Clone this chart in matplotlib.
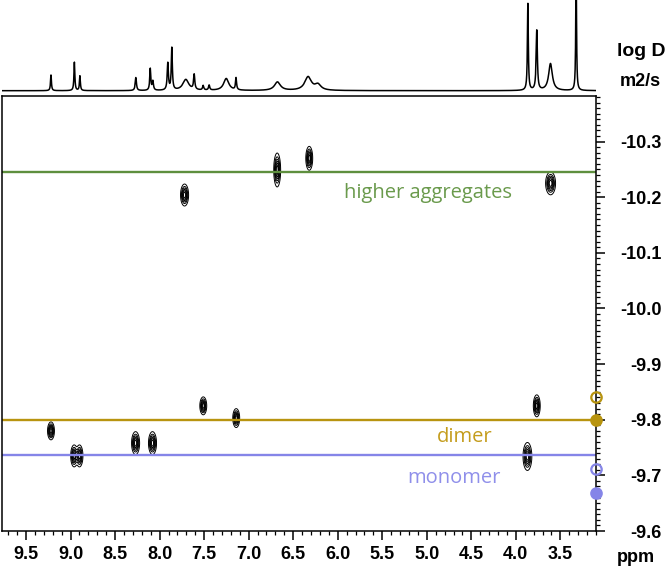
import numpy as np
import matplotlib
matplotlib.use('Agg')
import matplotlib.pyplot as plt
from matplotlib.ticker import MultipleLocator, FormatStrFormatter

plt.rcParams['axes.unicode_minus'] = False

# 1D projection: peak position (ppm), height, half width (ppm)
specPpm = [9.22, 8.957, 8.895, 8.267, 8.105, 8.076, 7.908, 7.863, 7.706, 7.612,
           7.511, 7.444, 7.252, 7.142, 6.677, 6.333, 6.222, 3.865, 3.765, 3.611, 3.323]
specHeight = [15.7, 28.4, 14.7, 13, 21.7, 9, 27, 42, 11, 15,
              4.5, 5, 12, 12, 8.5, 13.5, 5.5, 87, 60, 27, 130]
specWidth = [0.006, 0.006, 0.006, 0.008, 0.007, 0.008, 0.008, 0.007, 0.04, 0.008,
             0.008, 0.008, 0.035, 0.007, 0.04, 0.045, 0.04, 0.006, 0.008, 0.025, 0.005]

# DOSY cross peaks: ppm, log D, widths along each axis
peakPpm = [9.22, 8.96, 8.90, 8.27, 8.08, 7.51, 7.14, 3.765, 3.87, 7.72, 6.68, 6.32, 3.61]
peakLogD = [-9.780, -9.735, -9.735, -9.758, -9.758, -9.825, -9.803, -9.825, -9.734,
            -10.204, -10.249, -10.270, -10.225]
peakSx = [0.018, 0.018, 0.018, 0.021, 0.021, 0.018, 0.018, 0.018, 0.023, 0.021, 0.018, 0.018, 0.026]
peakSy = [0.0075, 0.0092, 0.0092, 0.0096, 0.0096, 0.0075, 0.0079, 0.0092, 0.0117,
          0.0092, 0.0142, 0.0100, 0.0096]

# species lines (log D) and labels
lineNames = ['higher aggregates', 'dimer', 'monomer']
lineLogD = [-10.245, -9.80, -9.737]
lineColors = ['#5e8f3e', '#b8940f', '#8585e8']
textColors = ['#6a9a4c', '#c49c1c', '#8f8fea']
labelPpm = [4.99, 4.58, 4.69]
labelLogD = [-10.208, -9.769, -9.695]

# reference markers on right axis
markLogD = [-9.841, -9.80, -9.712, -9.668]
markFilled = [False, True, False, True]
markColors = ['#b8940f', '#b8940f', '#8585e8', '#8585e8']

xlo, xhi = 9.77, 3.10
axisFont = 'Liberation Sans'

fig = plt.figure(figsize=(6.70, 5.68), dpi=100)
ax = fig.add_axes([2 / 670, 37 / 568, 594 / 670, 435 / 568])
axs = fig.add_axes([2 / 670, 472 / 568, 594 / 670, 96 / 568])

# top spectrum
xs = np.linspace(xhi, xlo, 8000)
ys = np.zeros_like(xs)
for p, h, w in zip(specPpm, specHeight, specWidth):
    ys += h * w ** 2 / ((xs - p) ** 2 + w ** 2)
axs.plot(xs, ys, color='black', lw=1.1)
axs.set_xlim(xlo, xhi)
axs.set_ylim(-5.3, 90.7)
axs.axis('off')

# contour blobs
gx = np.linspace(xhi, xlo, 1500)
gy = np.linspace(-10.4, -9.6, 900)
X, Y = np.meshgrid(gx, gy)
Z = np.zeros_like(X)
for p, d, sx, sy in zip(peakPpm, peakLogD, peakSx, peakSy):
    Z += np.exp(-((X - p) ** 2) / (2 * sx ** 2) - ((Y - d) ** 2) / (2 * sy ** 2))
ax.contour(X, Y, Z, levels=[0.1, 0.25, 0.4, 0.55, 0.7, 0.85], colors='black', linewidths=0.7)

for d, c, tc, name, lp, ld in zip(lineLogD, lineColors, textColors, lineNames, labelPpm, labelLogD):
    ax.axhline(d, color=c, lw=1.7)
    ax.text(lp, ld, name, color=tc, fontsize=14.5, family='Open Sans', ha='center', va='center')

for d, f, c in zip(markLogD, markFilled, markColors):
    ax.plot([xhi], [d], 'o', ms=7.5, mec=c, mfc=c if f else 'none', mew=1.6, clip_on=False, zorder=5)

ax.set_xlim(xlo, xhi)
ax.set_ylim(-9.6, -10.382)

ax.xaxis.set_major_locator(MultipleLocator(0.5))
ax.xaxis.set_minor_locator(MultipleLocator(0.1))
ax.xaxis.set_major_formatter(FormatStrFormatter('%.1f'))
ax.yaxis.tick_right()
ax.yaxis.set_major_locator(MultipleLocator(0.1))
ax.yaxis.set_minor_locator(MultipleLocator(0.01))
ax.yaxis.set_major_formatter(FormatStrFormatter('%.1f'))

ax.tick_params(axis='both', which='major', length=6.5, width=1.1, labelsize=13)
ax.tick_params(axis='both', which='minor', length=3, width=0.9)
ax.tick_params(axis='x', pad=4)
ax.tick_params(axis='y', pad=41)
for lab in ax.get_xticklabels() + ax.get_yticklabels():
    lab.set_fontweight('bold')
    lab.set_family(axisFont)
for lab in ax.get_yticklabels():
    lab.set_ha('right')
for s in ax.spines.values():
    s.set_linewidth(1.1)

fig.text(636 / 670, 1 - 557 / 568, 'ppm', fontsize=13, fontweight='bold', family=axisFont, ha='center', va='center')
fig.text(641 / 670, 1 - 51 / 568, 'log D', fontsize=14, fontweight='bold', family=axisFont, ha='center', va='center')
fig.text(640 / 670, 1 - 81 / 568, 'm2/s', fontsize=13, fontweight='bold', family=axisFont, ha='center', va='center')

fig.savefig('out.png', dpi=100)
